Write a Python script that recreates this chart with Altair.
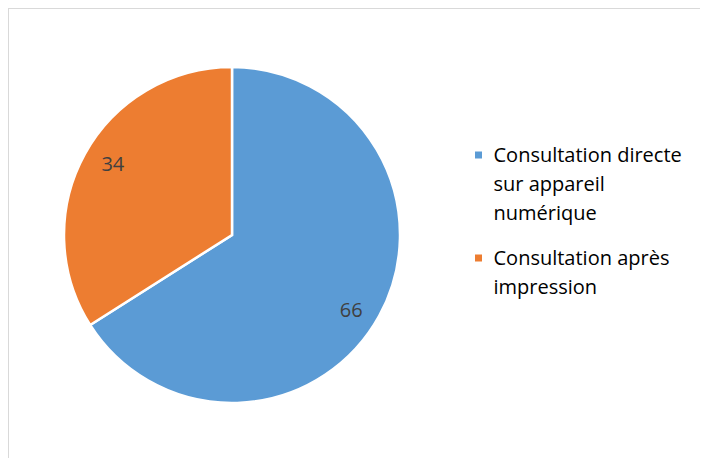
import altair as alt
import pandas as pd

categories = ["Consultation directe sur appareil numérique", "Consultation après impression"]
values = [66, 34]
legend_lines = [["Consultation directe", "sur appareil", "numérique"], ["Consultation après", "impression"]]
colors = ["#5B9BD5", "#ED7D31"]

df = pd.DataFrame({"cat": categories, "val": values, "ord": list(range(len(categories)))})

label_expr = " : ".join(
    f"datum.label == '{c}' ? {lines!r}" for c, lines in zip(categories[:-1], legend_lines[:-1])
) + f" : {legend_lines[-1]!r}"

FONT = "Open Sans"
BORDER = "#d9d9d9"

base = alt.Chart(df).encode(
    theta=alt.Theta("val:Q", stack=True),
    order=alt.Order("ord:Q"),
    x=alt.value(224),
    y=alt.value(227),
)

pie = base.mark_arc(radius=168, stroke="white", strokeWidth=2.5).encode(
    color=alt.Color(
        "cat:N",
        scale=alt.Scale(domain=categories, range=colors),
        legend=alt.Legend(
            title=None,
            orient="none",
            legendX=460.5,
            legendY=143.5,
            padding=0,
            symbolType="M-1,-2.857H1V-0.857H-1Z",
            symbolSize=49,
            symbolStrokeWidth=0,
            labelOffset=5,
            labelFont=FONT,
            labelFontSize=20,
            labelColor="#000000",
            labelBaseline="alphabetic",
            labelLimit=0,
            labelExpr=label_expr,
            rowPadding=25,
        ),
    )
)

text = base.mark_text(radius=140, thetaOffset=0.05, dy=3, font=FONT, fontSize=20, color="#404040").encode(
    text=alt.Text("val:Q")
)

top_border = alt.Chart(df).mark_rule(color=BORDER, strokeWidth=1.5).encode(
    x=alt.value(0), x2=alt.value(692), y=alt.value(0)
)
left_border = alt.Chart(df).mark_rule(color=BORDER, strokeWidth=1.5).encode(
    x=alt.value(0), y=alt.value(0), y2=alt.value(450)
)

chart = (
    alt.layer(pie, text, top_border, left_border)
    .properties(width=692, height=450, padding=0, autosize=alt.AutoSizeParams(type="none"))
    .configure_view(stroke=None)
    .configure(style={"guide-label": {"lineHeight": 29}})
)

chart.save("out.html", embed_options={"renderer": "svg", "actions": False})
